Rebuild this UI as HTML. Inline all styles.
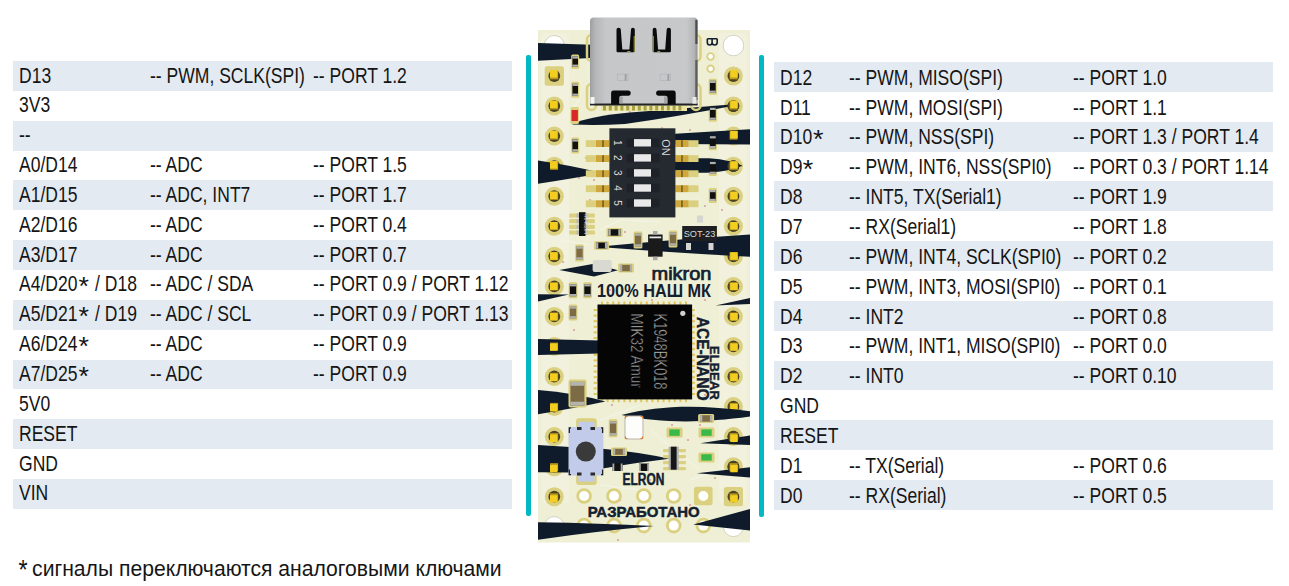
<!DOCTYPE html>
<html><head><meta charset="utf-8"><style>
html,body{margin:0;padding:0;background:#fff;width:1289px;height:586px;overflow:hidden;position:relative}
body{font-family:"Liberation Sans",sans-serif;color:#151515}
.row{position:absolute;width:499px;height:29.85px}
.sh{background:#e3eaf1}
.t{position:absolute;top:0;line-height:29.85px;font-size:22px;white-space:nowrap;transform:scaleX(0.797);transform-origin:0 0;top:-0.5px}
.ast{display:inline-block;font-size:26.2px;vertical-align:-3.9px;margin:0 3.6px 0 2.2px;transform:scaleX(1.29);line-height:0}
.fast{display:inline-block;font-size:27.7px;vertical-align:-2.7px;margin-right:-2px;transform:scaleX(0.9);line-height:0}
.tl{position:absolute;width:4.5px;background:#02b8c4;border-radius:2px 2px 2px 2px}
.foot{position:absolute;left:18px;top:556px;font-size:22.5px;white-space:nowrap;transform:scaleX(0.939);transform-origin:0 0}
#board{position:absolute;left:0;top:0}
</style></head><body>
<div class="row sh" style="left:13px;top:61.00px">
<span class="t" style="left:6.0px;top:-0.5px">D13</span>
<span class="t" style="left:136.8px;top:-0.5px">-- PWM, SCLK(SPI)</span>
<span class="t" style="left:300.0px;top:-0.5px">-- PORT 1.2</span>
</div>
<div class="row" style="left:13px;top:90.85px">
<span class="t" style="left:6.0px;top:-0.5px">3V3</span>
</div>
<div class="row sh" style="left:13px;top:120.70px">
<span class="t" style="left:6.0px;top:-0.5px">--</span>
</div>
<div class="row" style="left:13px;top:150.55px">
<span class="t" style="left:6.0px;top:-0.5px">A0/D14</span>
<span class="t" style="left:136.8px;top:-0.5px">-- ADC</span>
<span class="t" style="left:300.0px;top:-0.5px">-- PORT 1.5</span>
</div>
<div class="row sh" style="left:13px;top:180.40px">
<span class="t" style="left:6.0px;top:-0.5px">A1/D15</span>
<span class="t" style="left:136.8px;top:-0.5px">-- ADC, INT7</span>
<span class="t" style="left:300.0px;top:-0.5px">-- PORT 1.7</span>
</div>
<div class="row" style="left:13px;top:210.25px">
<span class="t" style="left:6.0px;top:-0.5px">A2/D16</span>
<span class="t" style="left:136.8px;top:-0.5px">-- ADC</span>
<span class="t" style="left:300.0px;top:-0.5px">-- PORT 0.4</span>
</div>
<div class="row sh" style="left:13px;top:240.10px">
<span class="t" style="left:6.0px;top:-0.5px">A3/D17</span>
<span class="t" style="left:136.8px;top:-0.5px">-- ADC</span>
<span class="t" style="left:300.0px;top:-0.5px">-- PORT 0.7</span>
</div>
<div class="row" style="left:13px;top:269.95px">
<span class="t" style="left:6.0px;top:-0.5px">A4/D20<span class=ast>*</span> / D18</span>
<span class="t" style="left:136.8px;top:-0.5px">-- ADC / SDA</span>
<span class="t" style="left:300.0px;top:-0.5px">-- PORT 0.9 / PORT 1.12</span>
</div>
<div class="row sh" style="left:13px;top:299.80px">
<span class="t" style="left:6.0px;top:-0.5px">A5/D21<span class=ast>*</span> / D19</span>
<span class="t" style="left:136.8px;top:-0.5px">-- ADC / SCL</span>
<span class="t" style="left:300.0px;top:-0.5px">-- PORT 0.9 / PORT 1.13</span>
</div>
<div class="row" style="left:13px;top:329.65px">
<span class="t" style="left:6.0px;top:-0.5px">A6/D24<span class=ast>*</span></span>
<span class="t" style="left:136.8px;top:-0.5px">-- ADC</span>
<span class="t" style="left:300.0px;top:-0.5px">-- PORT 0.9</span>
</div>
<div class="row sh" style="left:13px;top:359.50px">
<span class="t" style="left:6.0px;top:-0.5px">A7/D25<span class=ast>*</span></span>
<span class="t" style="left:136.8px;top:-0.5px">-- ADC</span>
<span class="t" style="left:300.0px;top:-0.5px">-- PORT 0.9</span>
</div>
<div class="row" style="left:13px;top:389.35px">
<span class="t" style="left:6.0px;top:-0.5px">5V0</span>
</div>
<div class="row sh" style="left:13px;top:419.20px">
<span class="t" style="left:6.0px;top:-0.5px">RESET</span>
</div>
<div class="row" style="left:13px;top:449.05px">
<span class="t" style="left:6.0px;top:-0.5px">GND</span>
</div>
<div class="row sh" style="left:13px;top:478.90px">
<span class="t" style="left:6.0px;top:-0.5px">VIN</span>
</div>
<div class="row sh" style="left:774px;top:62.00px">
<span class="t" style="left:5.8px;top:0.8px">D12</span>
<span class="t" style="left:74.9px;top:0.8px">-- PWM, MISO(SPI)</span>
<span class="t" style="left:298.8px;top:0.8px">-- PORT 1.0</span>
</div>
<div class="row" style="left:774px;top:91.85px">
<span class="t" style="left:5.8px;top:0.8px">D11</span>
<span class="t" style="left:74.9px;top:0.8px">-- PWM, MOSI(SPI)</span>
<span class="t" style="left:298.8px;top:0.8px">-- PORT 1.1</span>
</div>
<div class="row sh" style="left:774px;top:121.70px">
<span class="t" style="left:5.8px;top:0.8px">D10<span class=ast>*</span></span>
<span class="t" style="left:74.9px;top:0.8px">-- PWM, NSS(SPI)</span>
<span class="t" style="left:298.8px;top:0.8px">-- PORT 1.3 / PORT 1.4</span>
</div>
<div class="row" style="left:774px;top:151.55px">
<span class="t" style="left:5.8px;top:0.8px">D9<span class=ast>*</span></span>
<span class="t" style="left:74.9px;top:0.8px">-- PWM, INT6, NSS(SPI0)</span>
<span class="t" style="left:298.8px;top:0.8px">-- PORT 0.3 / PORT 1.14</span>
</div>
<div class="row sh" style="left:774px;top:181.40px">
<span class="t" style="left:5.8px;top:0.8px">D8</span>
<span class="t" style="left:74.9px;top:0.8px">-- INT5, TX(Serial1)</span>
<span class="t" style="left:298.8px;top:0.8px">-- PORT 1.9</span>
</div>
<div class="row" style="left:774px;top:211.25px">
<span class="t" style="left:5.8px;top:0.8px">D7</span>
<span class="t" style="left:74.9px;top:0.8px">-- RX(Serial1)</span>
<span class="t" style="left:298.8px;top:0.8px">-- PORT 1.8</span>
</div>
<div class="row sh" style="left:774px;top:241.10px">
<span class="t" style="left:5.8px;top:0.8px">D6</span>
<span class="t" style="left:74.9px;top:0.8px">-- PWM, INT4, SCLK(SPI0)</span>
<span class="t" style="left:298.8px;top:0.8px">-- PORT 0.2</span>
</div>
<div class="row" style="left:774px;top:270.95px">
<span class="t" style="left:5.8px;top:0.8px">D5</span>
<span class="t" style="left:74.9px;top:0.8px">-- PWM, INT3, MOSI(SPI0)</span>
<span class="t" style="left:298.8px;top:0.8px">-- PORT 0.1</span>
</div>
<div class="row sh" style="left:774px;top:300.80px">
<span class="t" style="left:5.8px;top:0.8px">D4</span>
<span class="t" style="left:74.9px;top:0.8px">-- INT2</span>
<span class="t" style="left:298.8px;top:0.8px">-- PORT 0.8</span>
</div>
<div class="row" style="left:774px;top:330.65px">
<span class="t" style="left:5.8px;top:0.8px">D3</span>
<span class="t" style="left:74.9px;top:0.8px">-- PWM, INT1, MISO(SPI0)</span>
<span class="t" style="left:298.8px;top:0.8px">-- PORT 0.0</span>
</div>
<div class="row sh" style="left:774px;top:360.50px">
<span class="t" style="left:5.8px;top:0.8px">D2</span>
<span class="t" style="left:74.9px;top:0.8px">-- INT0</span>
<span class="t" style="left:298.8px;top:0.8px">-- PORT 0.10</span>
</div>
<div class="row" style="left:774px;top:390.35px">
<span class="t" style="left:5.8px;top:0.8px">GND</span>
</div>
<div class="row sh" style="left:774px;top:420.20px">
<span class="t" style="left:5.8px;top:0.8px">RESET</span>
</div>
<div class="row" style="left:774px;top:450.05px">
<span class="t" style="left:5.8px;top:0.8px">D1</span>
<span class="t" style="left:74.9px;top:0.8px">-- TX(Serial)</span>
<span class="t" style="left:298.8px;top:0.8px">-- PORT 0.6</span>
</div>
<div class="row sh" style="left:774px;top:479.90px">
<span class="t" style="left:5.8px;top:0.8px">D0</span>
<span class="t" style="left:74.9px;top:0.8px">-- RX(Serial)</span>
<span class="t" style="left:298.8px;top:0.8px">-- PORT 0.5</span>
</div>
<div class="tl" style="left:526.3px;top:55px;height:461px"></div>
<div class="tl" style="left:759px;top:54.5px;height:462px"></div>
<div class="foot"><span class="fast">*</span> сигналы переключаются аналоговыми ключами</div>
<svg id="board" width="1289" height="586" viewBox="0 0 1289 586" style="position:absolute;left:0;top:0">
<defs>
<linearGradient id="usbg" x1="0" x2="1" y1="0" y2="0">
<stop offset="0" stop-color="#9c9ea0"/><stop offset="0.05" stop-color="#b4b6b8"/><stop offset="0.15" stop-color="#c5c7c9"/><stop offset="0.9" stop-color="#c6c8ca"/><stop offset="0.97" stop-color="#b2b4b6"/><stop offset="1" stop-color="#8e9092"/>
</linearGradient>
<linearGradient id="yelg" x1="0" x2="0" y1="0" y2="1">
<stop offset="0" stop-color="#f6d22a"/><stop offset="0.6" stop-color="#efc51c"/><stop offset="1" stop-color="#b99414"/>
</linearGradient>
</defs>
<rect x="538" y="30" width="212" height="512.5" fill="#eeefd5"/>
<g fill="#f2f2de" opacity="0.9">
<rect x="541" y="33" width="28" height="470" rx="4"/>
<rect x="719" y="33" width="28" height="470" rx="4"/>
</g>
<circle cx="554.3" cy="45.5" r="10" fill="#fff" stroke="#c9c9b8" stroke-width="0.8"/>
<circle cx="733.4" cy="45.5" r="10.3" fill="#fff" stroke="#c9c9b8" stroke-width="0.8"/>
<!--BANDS-->
<g stroke="#f4f4e6" stroke-width="1.6" fill="none" opacity="0.8">
<path d="M563 88 L575 100 M563 118 L580 100 M600 230 L620 220 L660 222 M690 300 L700 320 M600 420 L640 405 M560 240 L590 245 M650 430 L700 470 M690 480 L720 470 M600 485 L640 490 M700 395 L720 380"/>
</g>
<circle cx="586" cy="158" r="1.1" fill="#d8a2a4"/>
<circle cx="590" cy="200" r="1.1" fill="#d8a2a4"/>
<circle cx="600" cy="330" r="1.1" fill="#d8a2a4"/>
<circle cx="610" cy="290" r="1.1" fill="#d8a2a4"/>
<circle cx="625" cy="232" r="1.1" fill="#d8a2a4"/>
<circle cx="640" cy="190" r="1.1" fill="#d8a2a4"/>
<circle cx="652" cy="300" r="1.1" fill="#d8a2a4"/>
<circle cx="668" cy="243" r="1.1" fill="#d8a2a4"/>
<circle cx="705" cy="206" r="1.1" fill="#d8a2a4"/>
<circle cx="712" cy="120" r="1.1" fill="#d8a2a4"/>
<circle cx="722" cy="210" r="1.1" fill="#d8a2a4"/>
<circle cx="563" cy="262" r="1.1" fill="#d8a2a4"/>
<circle cx="598" cy="380" r="1.1" fill="#d8a2a4"/>
<circle cx="612" cy="405" r="1.1" fill="#d8a2a4"/>
<circle cx="660" cy="410" r="1.1" fill="#d8a2a4"/>
<circle cx="672" cy="425" r="1.1" fill="#d8a2a4"/>
<circle cx="688" cy="440" r="1.1" fill="#d8a2a4"/>
<circle cx="700" cy="425" r="1.1" fill="#d8a2a4"/>
<circle cx="650" cy="480" r="1.1" fill="#d8a2a4"/>
<circle cx="715" cy="478" r="1.1" fill="#d8a2a4"/>
<circle cx="620" cy="500" r="1.1" fill="#d8a2a4"/>
<circle cx="690" cy="505" r="1.1" fill="#d8a2a4"/>
<circle cx="662" cy="128" r="1.1" fill="#d8a2a4"/>
<circle cx="690" cy="130" r="1.1" fill="#d8a2a4"/>
<circle cx="579" cy="178" r="1.1" fill="#d8a2a4"/>
<circle cx="630" cy="112" r="1.1" fill="#d8a2a4"/>
<circle cx="594" cy="180" r="1.1" fill="#d8a2a4"/>
<circle cx="705" cy="300" r="1.1" fill="#d8a2a4"/>
<circle cx="700" cy="345" r="1.1" fill="#d8a2a4"/>
<circle cx="705" cy="395" r="1.1" fill="#d8a2a4"/>
<circle cx="574" cy="330" r="1.1" fill="#d8a2a4"/>
<circle cx="583" cy="345" r="1.1" fill="#d8a2a4"/>
<circle cx="588" cy="268" r="1.1" fill="#d8a2a4"/>
<circle cx="648" cy="520" r="1.1" fill="#d8a2a4"/>
<circle cx="618" cy="540" r="1.1" fill="#d8a2a4"/>
<rect x="544.7" y="66.2" width="19.2" height="19.6" rx="2.5" fill="#dad07f"/>
<circle cx="554.3" cy="76.0" r="5.9" fill="#4a4222"/>
<rect x="550.1" y="71.3" width="8" height="8" fill="#b99a1c"/>
<rect x="550.0" y="70.1" width="7.4" height="7.4" rx="0.5" fill="#f3cd20"/>
<circle cx="733.4" cy="76.0" r="9.5" fill="#dad07f"/>
<circle cx="733.4" cy="76.0" r="5.9" fill="#4a4222"/>
<rect x="729.6" y="71.3" width="8" height="8" fill="#b99a1c"/>
<rect x="730.3" y="70.1" width="7.4" height="7.4" rx="0.5" fill="#f3cd20"/>
<circle cx="554.3" cy="106.0" r="9.5" fill="#dad07f"/>
<circle cx="554.3" cy="106.0" r="5.9" fill="#4a4222"/>
<rect x="550.1" y="101.5" width="8" height="8" fill="#b99a1c"/>
<rect x="550.0" y="100.5" width="7.4" height="7.4" rx="0.5" fill="#f3cd20"/>
<circle cx="733.4" cy="106.0" r="9.5" fill="#dad07f"/>
<circle cx="733.4" cy="106.0" r="5.9" fill="#4a4222"/>
<rect x="729.6" y="101.5" width="8" height="8" fill="#b99a1c"/>
<rect x="730.3" y="100.5" width="7.4" height="7.4" rx="0.5" fill="#f3cd20"/>
<circle cx="554.3" cy="136.1" r="9.5" fill="#dad07f"/>
<circle cx="554.3" cy="136.1" r="5.9" fill="#4a4222"/>
<rect x="550.1" y="131.6" width="8" height="8" fill="#b99a1c"/>
<rect x="550.0" y="130.8" width="7.4" height="7.4" rx="0.5" fill="#f3cd20"/>
<circle cx="733.4" cy="136.1" r="9.5" fill="#dad07f"/>
<circle cx="733.4" cy="136.1" r="5.9" fill="#4a4222"/>
<rect x="729.6" y="131.6" width="8" height="8" fill="#b99a1c"/>
<rect x="730.3" y="130.8" width="7.4" height="7.4" rx="0.5" fill="#f3cd20"/>
<circle cx="554.3" cy="166.2" r="9.5" fill="#dad07f"/>
<circle cx="554.3" cy="166.2" r="5.9" fill="#4a4222"/>
<rect x="550.1" y="161.8" width="8" height="8" fill="#b99a1c"/>
<rect x="550.0" y="161.2" width="7.4" height="7.4" rx="0.5" fill="#f3cd20"/>
<circle cx="733.4" cy="166.2" r="9.5" fill="#dad07f"/>
<circle cx="733.4" cy="166.2" r="5.9" fill="#4a4222"/>
<rect x="729.6" y="161.8" width="8" height="8" fill="#b99a1c"/>
<rect x="730.3" y="161.2" width="7.4" height="7.4" rx="0.5" fill="#f3cd20"/>
<circle cx="554.3" cy="196.2" r="9.5" fill="#dad07f"/>
<circle cx="554.3" cy="196.2" r="5.9" fill="#4a4222"/>
<rect x="550.1" y="191.9" width="8" height="8" fill="#b99a1c"/>
<rect x="550.0" y="191.6" width="7.4" height="7.4" rx="0.5" fill="#f3cd20"/>
<circle cx="733.4" cy="196.2" r="9.5" fill="#dad07f"/>
<circle cx="733.4" cy="196.2" r="5.9" fill="#4a4222"/>
<rect x="729.6" y="191.9" width="8" height="8" fill="#b99a1c"/>
<rect x="730.3" y="191.6" width="7.4" height="7.4" rx="0.5" fill="#f3cd20"/>
<circle cx="554.3" cy="226.2" r="9.5" fill="#dad07f"/>
<circle cx="554.3" cy="226.2" r="5.9" fill="#4a4222"/>
<rect x="550.1" y="222.1" width="8" height="8" fill="#b99a1c"/>
<rect x="550.0" y="221.9" width="7.4" height="7.4" rx="0.5" fill="#f3cd20"/>
<circle cx="733.4" cy="226.2" r="9.5" fill="#dad07f"/>
<circle cx="733.4" cy="226.2" r="5.9" fill="#4a4222"/>
<rect x="729.6" y="222.1" width="8" height="8" fill="#b99a1c"/>
<rect x="730.3" y="221.9" width="7.4" height="7.4" rx="0.5" fill="#f3cd20"/>
<circle cx="554.3" cy="256.3" r="9.5" fill="#dad07f"/>
<circle cx="554.3" cy="256.3" r="5.9" fill="#4a4222"/>
<rect x="550.1" y="252.2" width="8" height="8" fill="#b99a1c"/>
<rect x="550.0" y="252.3" width="7.4" height="7.4" rx="0.5" fill="#f3cd20"/>
<circle cx="733.4" cy="256.3" r="9.5" fill="#dad07f"/>
<circle cx="733.4" cy="256.3" r="5.9" fill="#4a4222"/>
<rect x="729.6" y="252.2" width="8" height="8" fill="#b99a1c"/>
<rect x="730.3" y="252.3" width="7.4" height="7.4" rx="0.5" fill="#f3cd20"/>
<circle cx="554.3" cy="286.4" r="9.5" fill="#dad07f"/>
<circle cx="554.3" cy="286.4" r="5.9" fill="#4a4222"/>
<rect x="550.1" y="282.4" width="8" height="8" fill="#b99a1c"/>
<rect x="550.0" y="282.7" width="7.4" height="7.4" rx="0.5" fill="#f3cd20"/>
<circle cx="733.4" cy="286.4" r="9.5" fill="#dad07f"/>
<circle cx="733.4" cy="286.4" r="5.9" fill="#4a4222"/>
<rect x="729.6" y="282.4" width="8" height="8" fill="#b99a1c"/>
<rect x="730.3" y="282.7" width="7.4" height="7.4" rx="0.5" fill="#f3cd20"/>
<circle cx="554.3" cy="316.4" r="9.5" fill="#dad07f"/>
<circle cx="554.3" cy="316.4" r="5.9" fill="#4a4222"/>
<rect x="550.1" y="312.5" width="8" height="8" fill="#b99a1c"/>
<rect x="550.0" y="313.0" width="7.4" height="7.4" rx="0.5" fill="#f3cd20"/>
<circle cx="733.4" cy="316.4" r="9.5" fill="#dad07f"/>
<circle cx="733.4" cy="316.4" r="5.9" fill="#4a4222"/>
<rect x="729.6" y="312.5" width="8" height="8" fill="#b99a1c"/>
<rect x="730.3" y="313.0" width="7.4" height="7.4" rx="0.5" fill="#f3cd20"/>
<circle cx="554.3" cy="346.4" r="9.5" fill="#dad07f"/>
<circle cx="554.3" cy="346.4" r="5.9" fill="#4a4222"/>
<rect x="550.1" y="342.6" width="8" height="8" fill="#b99a1c"/>
<rect x="550.0" y="343.4" width="7.4" height="7.4" rx="0.5" fill="#f3cd20"/>
<circle cx="733.4" cy="346.4" r="9.5" fill="#dad07f"/>
<circle cx="733.4" cy="346.4" r="5.9" fill="#4a4222"/>
<rect x="729.6" y="342.6" width="8" height="8" fill="#b99a1c"/>
<rect x="730.3" y="343.4" width="7.4" height="7.4" rx="0.5" fill="#f3cd20"/>
<circle cx="554.3" cy="376.5" r="9.5" fill="#dad07f"/>
<circle cx="554.3" cy="376.5" r="5.9" fill="#4a4222"/>
<rect x="550.1" y="372.8" width="8" height="8" fill="#b99a1c"/>
<rect x="550.0" y="373.8" width="7.4" height="7.4" rx="0.5" fill="#f3cd20"/>
<circle cx="733.4" cy="376.5" r="9.5" fill="#dad07f"/>
<circle cx="733.4" cy="376.5" r="5.9" fill="#4a4222"/>
<rect x="729.6" y="372.8" width="8" height="8" fill="#b99a1c"/>
<rect x="730.3" y="373.8" width="7.4" height="7.4" rx="0.5" fill="#f3cd20"/>
<circle cx="554.3" cy="406.6" r="9.5" fill="#dad07f"/>
<circle cx="554.3" cy="406.6" r="5.9" fill="#4a4222"/>
<rect x="550.1" y="402.9" width="8" height="8" fill="#b99a1c"/>
<rect x="550.0" y="404.1" width="7.4" height="7.4" rx="0.5" fill="#f3cd20"/>
<circle cx="733.4" cy="406.6" r="9.5" fill="#dad07f"/>
<circle cx="733.4" cy="406.6" r="5.9" fill="#4a4222"/>
<rect x="729.6" y="402.9" width="8" height="8" fill="#b99a1c"/>
<rect x="730.3" y="404.1" width="7.4" height="7.4" rx="0.5" fill="#f3cd20"/>
<circle cx="554.3" cy="436.6" r="9.5" fill="#dad07f"/>
<circle cx="554.3" cy="436.6" r="5.9" fill="#4a4222"/>
<rect x="550.1" y="433.1" width="8" height="8" fill="#b99a1c"/>
<rect x="550.0" y="434.5" width="7.4" height="7.4" rx="0.5" fill="#f3cd20"/>
<circle cx="733.4" cy="436.6" r="9.5" fill="#dad07f"/>
<circle cx="733.4" cy="436.6" r="5.9" fill="#4a4222"/>
<rect x="729.6" y="433.1" width="8" height="8" fill="#b99a1c"/>
<rect x="730.3" y="434.5" width="7.4" height="7.4" rx="0.5" fill="#f3cd20"/>
<circle cx="554.3" cy="466.7" r="9.5" fill="#dad07f"/>
<circle cx="554.3" cy="466.7" r="5.9" fill="#4a4222"/>
<rect x="550.1" y="463.2" width="8" height="8" fill="#b99a1c"/>
<rect x="550.0" y="464.9" width="7.4" height="7.4" rx="0.5" fill="#f3cd20"/>
<circle cx="733.4" cy="466.7" r="9.5" fill="#dad07f"/>
<circle cx="733.4" cy="466.7" r="5.9" fill="#4a4222"/>
<rect x="729.6" y="463.2" width="8" height="8" fill="#b99a1c"/>
<rect x="730.3" y="464.9" width="7.4" height="7.4" rx="0.5" fill="#f3cd20"/>
<circle cx="554.3" cy="496.7" r="9.5" fill="#dad07f"/>
<circle cx="554.3" cy="496.7" r="5.9" fill="#4a4222"/>
<rect x="550.1" y="493.4" width="8" height="8" fill="#b99a1c"/>
<rect x="550.0" y="495.2" width="7.4" height="7.4" rx="0.5" fill="#f3cd20"/>
<circle cx="733.4" cy="496.7" r="9.5" fill="#dad07f"/>
<circle cx="733.4" cy="496.7" r="5.9" fill="#4a4222"/>
<rect x="729.6" y="493.4" width="8" height="8" fill="#b99a1c"/>
<rect x="730.3" y="495.2" width="7.4" height="7.4" rx="0.5" fill="#f3cd20"/>
<circle cx="584.1" cy="496.0" r="7.8" fill="#dad07f"/>
<circle cx="584.1" cy="496.0" r="5.0" fill="#fff"/>
<circle cx="614.0" cy="496.0" r="7.8" fill="#dad07f"/>
<circle cx="614.0" cy="496.0" r="5.0" fill="#fff"/>
<circle cx="643.8" cy="496.0" r="7.8" fill="#dad07f"/>
<circle cx="643.8" cy="496.0" r="5.0" fill="#fff"/>
<circle cx="673.7" cy="496.0" r="7.8" fill="#dad07f"/>
<circle cx="673.7" cy="496.0" r="5.0" fill="#fff"/>
<rect x="694.0" y="486.7" width="18.6" height="18.6" rx="2.5" fill="#dad07f"/>
<circle cx="703.3" cy="496.0" r="5.0" fill="#fff"/>
<circle cx="554.3" cy="526.6" r="10" fill="#fff" stroke="#c9c9b8" stroke-width="0.8"/>
<circle cx="584.1" cy="525.6" r="7.8" fill="#dad07f"/>
<circle cx="584.1" cy="525.6" r="5.0" fill="#fff"/>
<circle cx="614.0" cy="525.6" r="7.8" fill="#dad07f"/>
<circle cx="614.0" cy="525.6" r="5.0" fill="#fff"/>
<circle cx="643.8" cy="525.6" r="7.8" fill="#dad07f"/>
<circle cx="643.8" cy="525.6" r="5.0" fill="#fff"/>
<circle cx="673.7" cy="525.6" r="7.8" fill="#dad07f"/>
<circle cx="673.7" cy="525.6" r="5.0" fill="#fff"/>
<circle cx="703.3" cy="525.6" r="7.8" fill="#dad07f"/>
<circle cx="703.3" cy="525.6" r="5.0" fill="#fff"/>
<circle cx="733.4" cy="526.6" r="10" fill="#fff" stroke="#c9c9b8" stroke-width="0.8"/>
<rect x="723.8" y="487.1" width="19.2" height="19.2" rx="2.5" fill="#dad07f"/>
<circle cx="733.4" cy="496.7" r="5.9" fill="#4a4222"/>
<rect x="729.6" y="493.4" width="8" height="8" fill="#b99a1c"/>
<rect x="730.3" y="495.2" width="7.4" height="7.4" rx="0.5" fill="#f3cd20"/>
<circle cx="710.6" cy="56.5" r="4.2" fill="#dad07f"/><circle cx="710.6" cy="56.5" r="2.4" fill="#fff"/>
<circle cx="710.6" cy="68.8" r="4.2" fill="#dad07f"/><circle cx="710.6" cy="68.8" r="2.4" fill="#fff"/>
<g fill="#e0c65a">
<rect x="601.0" y="301.5" width="2" height="3.3"/>
<rect x="601.0" y="398.9" width="2" height="3.3"/>
<rect x="593.6" y="309.0" width="3.3" height="2"/>
<rect x="691.6" y="309.0" width="3.3" height="2"/>
<rect x="606.6" y="301.5" width="2" height="3.3"/>
<rect x="606.6" y="398.9" width="2" height="3.3"/>
<rect x="593.6" y="314.6" width="3.3" height="2"/>
<rect x="691.6" y="314.6" width="3.3" height="2"/>
<rect x="612.2" y="301.5" width="2" height="3.3"/>
<rect x="612.2" y="398.9" width="2" height="3.3"/>
<rect x="593.6" y="320.2" width="3.3" height="2"/>
<rect x="691.6" y="320.2" width="3.3" height="2"/>
<rect x="617.8" y="301.5" width="2" height="3.3"/>
<rect x="617.8" y="398.9" width="2" height="3.3"/>
<rect x="593.6" y="325.8" width="3.3" height="2"/>
<rect x="691.6" y="325.8" width="3.3" height="2"/>
<rect x="623.4" y="301.5" width="2" height="3.3"/>
<rect x="623.4" y="398.9" width="2" height="3.3"/>
<rect x="593.6" y="331.4" width="3.3" height="2"/>
<rect x="691.6" y="331.4" width="3.3" height="2"/>
<rect x="629.0" y="301.5" width="2" height="3.3"/>
<rect x="629.0" y="398.9" width="2" height="3.3"/>
<rect x="593.6" y="337.0" width="3.3" height="2"/>
<rect x="691.6" y="337.0" width="3.3" height="2"/>
<rect x="634.6" y="301.5" width="2" height="3.3"/>
<rect x="634.6" y="398.9" width="2" height="3.3"/>
<rect x="593.6" y="342.6" width="3.3" height="2"/>
<rect x="691.6" y="342.6" width="3.3" height="2"/>
<rect x="640.2" y="301.5" width="2" height="3.3"/>
<rect x="640.2" y="398.9" width="2" height="3.3"/>
<rect x="593.6" y="348.2" width="3.3" height="2"/>
<rect x="691.6" y="348.2" width="3.3" height="2"/>
<rect x="645.8" y="301.5" width="2" height="3.3"/>
<rect x="645.8" y="398.9" width="2" height="3.3"/>
<rect x="593.6" y="353.8" width="3.3" height="2"/>
<rect x="691.6" y="353.8" width="3.3" height="2"/>
<rect x="651.4" y="301.5" width="2" height="3.3"/>
<rect x="651.4" y="398.9" width="2" height="3.3"/>
<rect x="593.6" y="359.4" width="3.3" height="2"/>
<rect x="691.6" y="359.4" width="3.3" height="2"/>
<rect x="657.0" y="301.5" width="2" height="3.3"/>
<rect x="657.0" y="398.9" width="2" height="3.3"/>
<rect x="593.6" y="365.0" width="3.3" height="2"/>
<rect x="691.6" y="365.0" width="3.3" height="2"/>
<rect x="662.6" y="301.5" width="2" height="3.3"/>
<rect x="662.6" y="398.9" width="2" height="3.3"/>
<rect x="593.6" y="370.6" width="3.3" height="2"/>
<rect x="691.6" y="370.6" width="3.3" height="2"/>
<rect x="668.2" y="301.5" width="2" height="3.3"/>
<rect x="668.2" y="398.9" width="2" height="3.3"/>
<rect x="593.6" y="376.2" width="3.3" height="2"/>
<rect x="691.6" y="376.2" width="3.3" height="2"/>
<rect x="673.8" y="301.5" width="2" height="3.3"/>
<rect x="673.8" y="398.9" width="2" height="3.3"/>
<rect x="593.6" y="381.8" width="3.3" height="2"/>
<rect x="691.6" y="381.8" width="3.3" height="2"/>
<rect x="679.4" y="301.5" width="2" height="3.3"/>
<rect x="679.4" y="398.9" width="2" height="3.3"/>
<rect x="593.6" y="387.4" width="3.3" height="2"/>
<rect x="691.6" y="387.4" width="3.3" height="2"/>
<rect x="685.0" y="301.5" width="2" height="3.3"/>
<rect x="685.0" y="398.9" width="2" height="3.3"/>
<rect x="593.6" y="393.0" width="3.3" height="2"/>
<rect x="691.6" y="393.0" width="3.3" height="2"/>
</g>
<rect x="708.7" y="105.8" width="8.2" height="16.0" rx="1.5" fill="#dad07f"/>
<rect x="708.7" y="134.2" width="8.2" height="16.0" rx="1.5" fill="#dad07f"/>
<rect x="708.7" y="159.9" width="8.2" height="16.0" rx="1.5" fill="#dad07f"/>
<g fill="#0f1b2a">
<path d="M538 43 L600 45 L600 57.5 L538 60.7 Z"/>
<path d="M572.5 124 Q590 116 630 112.5 L731 104.6 L731 106.2 Q680 116 625 124 Q600 125.5 572.5 124.6 Z"/>
<path d="M630 137 L675 133.8 L750 129.2 L750 144.6 L675 144 L630 141 Z"/>
<path d="M538 160.4 Q575 166 600 172.6 L600 173.5 Q575 178 538 183.8 Z"/>
<path d="M655 165.5 C690 155.5 722 156 742.5 165.8 C722 174 690 176 655 166.5 Z"/>
<path d="M606 246 Q680 239 750 234.5 L750 256.7 Q680 253 606 247.4 Z"/>
<path d="M559.3 270 L594 263.8 L618 270.2 L594 276.6 Z"/>
<path d="M538 294.2 L569 294.4 L538 301.5 Z"/>
<path d="M715.5 305.6 L750 297.9 L750 303.9 Z"/>
<path d="M538 338.9 L600 340.6 L600 353.4 L538 355.1 Z"/>
<path d="M538 390 Q575 393 605.4 401.5 Q575 408 538 414.3 Z"/>
<path d="M621.6 415 C660 405 700 404.5 750 411.3 L750 416.6 C700 423.5 660 423 621.6 415 Z"/>
<path d="M538 445 L570 447 L570 472.5 L538 472.3 Z"/>
<path d="M600 448.4 Q640 452 669.4 458.7 Q640 462 600 468.9 Z"/>
<path d="M700.2 443.3 L750 435.6 L750 445 Z"/>
<path d="M696.8 473.2 L750 467.2 L750 477.4 Z"/>
<path d="M538 522.2 Q600 523 654 526.1 Q600 531 538 539.7 Z"/>
<path d="M693.3 524.4 L750 509 L750 530.4 Z"/>
</g>
<rect x="729.6" y="101.5" width="8" height="8" fill="#b99a1c"/>
<rect x="730.3" y="100.5" width="7.4" height="7.4" rx="0.5" fill="#f3cd20"/>
<rect x="729.6" y="131.6" width="8" height="8" fill="#b99a1c"/>
<rect x="730.3" y="130.8" width="7.4" height="7.4" rx="0.5" fill="#f3cd20"/>
<rect x="550.1" y="161.8" width="8" height="8" fill="#b99a1c"/>
<rect x="550.0" y="161.2" width="7.4" height="7.4" rx="0.5" fill="#f3cd20"/>
<rect x="729.6" y="161.8" width="8" height="8" fill="#b99a1c"/>
<rect x="730.3" y="161.2" width="7.4" height="7.4" rx="0.5" fill="#f3cd20"/>
<rect x="729.6" y="252.2" width="8" height="8" fill="#b99a1c"/>
<rect x="730.3" y="252.3" width="7.4" height="7.4" rx="0.5" fill="#f3cd20"/>
<rect x="550.1" y="342.6" width="8" height="8" fill="#b99a1c"/>
<rect x="550.0" y="343.4" width="7.4" height="7.4" rx="0.5" fill="#f3cd20"/>
<rect x="550.1" y="402.9" width="8" height="8" fill="#b99a1c"/>
<rect x="550.0" y="404.1" width="7.4" height="7.4" rx="0.5" fill="#f3cd20"/>
<rect x="550.1" y="463.2" width="8" height="8" fill="#b99a1c"/>
<rect x="550.0" y="464.9" width="7.4" height="7.4" rx="0.5" fill="#f3cd20"/>
<circle cx="733.4" cy="106.0" r="5.9" fill="#4a4222"/>
<rect x="729.6" y="101.5" width="8" height="8" fill="#b99a1c"/>
<rect x="730.3" y="100.5" width="7.4" height="7.4" rx="0.5" fill="#f3cd20"/>
<circle cx="733.4" cy="166.2" r="5.9" fill="#4a4222"/>
<rect x="729.6" y="161.8" width="8" height="8" fill="#b99a1c"/>
<rect x="730.3" y="161.2" width="7.4" height="7.4" rx="0.5" fill="#f3cd20"/>
<circle cx="733.4" cy="436.6" r="5.9" fill="#4a4222"/>
<rect x="729.6" y="433.1" width="8" height="8" fill="#b99a1c"/>
<rect x="730.3" y="434.5" width="7.4" height="7.4" rx="0.5" fill="#f3cd20"/>
<circle cx="733.4" cy="466.7" r="5.9" fill="#4a4222"/>
<rect x="729.6" y="463.2" width="8" height="8" fill="#b99a1c"/>
<rect x="730.3" y="464.9" width="7.4" height="7.4" rx="0.5" fill="#f3cd20"/>
<rect x="571.2" y="54.4" width="8.0" height="14.5" rx="1.5" fill="#dad07f"/>
<rect x="572.4" y="56.4" width="5.6" height="10.5" fill="#111"/>
<rect x="572.4" y="56.4" width="5.6" height="2.2" fill="#aeb0b0"/>
<rect x="572.4" y="64.6" width="5.6" height="2.2" fill="#aeb0b0"/>
<rect x="571.2" y="81.8" width="8.0" height="16.0" rx="1.5" fill="#dad07f"/>
<rect x="572.4" y="83.8" width="5.6" height="12" fill="#111"/>
<rect x="572.4" y="83.8" width="5.6" height="2.2" fill="#aeb0b0"/>
<rect x="572.4" y="93.6" width="5.6" height="2.2" fill="#aeb0b0"/>
<rect x="570.5" y="107" width="8.4" height="17" rx="1.5" fill="#dad07f"/>
<rect x="571.5" y="110" width="6.4" height="11" fill="#d8262a"/>
<rect x="571.2" y="137.4" width="8.0" height="16.0" rx="1.5" fill="#dad07f"/>
<rect x="572.4" y="139.4" width="5.6" height="12" fill="#111"/>
<rect x="572.4" y="139.4" width="5.6" height="2.2" fill="#aeb0b0"/>
<rect x="572.4" y="149.2" width="5.6" height="2.2" fill="#aeb0b0"/>
<rect x="708.7" y="78.8" width="8.2" height="16.0" rx="1.5" fill="#dad07f"/>
<rect x="709.9" y="80.8" width="5.8" height="12" fill="#111"/>
<rect x="709.9" y="80.8" width="5.8" height="2.2" fill="#aeb0b0"/>
<rect x="709.9" y="90.6" width="5.8" height="2.2" fill="#aeb0b0"/>
<rect x="709.9" y="107.8" width="5.8" height="12" fill="#111"/>
<rect x="709.9" y="107.8" width="5.8" height="2.2" fill="#aeb0b0"/>
<rect x="709.9" y="117.6" width="5.8" height="2.2" fill="#aeb0b0"/>
<rect x="709.9" y="136.2" width="5.8" height="12" fill="#111"/>
<rect x="709.9" y="136.2" width="5.8" height="2.2" fill="#aeb0b0"/>
<rect x="709.9" y="146.0" width="5.8" height="2.2" fill="#aeb0b0"/>
<rect x="709.9" y="161.9" width="5.8" height="12" fill="#111"/>
<rect x="709.9" y="161.9" width="5.8" height="2.2" fill="#aeb0b0"/>
<rect x="709.9" y="171.7" width="5.8" height="2.2" fill="#aeb0b0"/>
<rect x="708.7" y="188.0" width="8.2" height="15.0" rx="1.5" fill="#dad07f"/>
<rect x="709.9" y="190.0" width="5.8" height="11" fill="#111"/>
<rect x="709.9" y="190.0" width="5.8" height="2.2" fill="#aeb0b0"/>
<rect x="709.9" y="198.8" width="5.8" height="2.2" fill="#aeb0b0"/>
<rect x="569.2" y="213.4" width="25.7" height="4.2" rx="1.2" fill="#dad07f"/>
<rect x="576.5" y="213.4" width="11.5" height="4.2" fill="#b8b9bd"/>
<rect x="569.2" y="219.1" width="25.7" height="4.2" rx="1.2" fill="#dad07f"/>
<rect x="576.5" y="219.1" width="11.5" height="4.2" fill="#b8b9bd"/>
<rect x="569.2" y="224.7" width="25.7" height="4.2" rx="1.2" fill="#dad07f"/>
<rect x="576.5" y="224.7" width="11.5" height="4.2" fill="#b8b9bd"/>
<rect x="569.2" y="230.4" width="25.7" height="4.2" rx="1.2" fill="#dad07f"/>
<rect x="576.5" y="230.4" width="11.5" height="4.2" fill="#b8b9bd"/>
<rect x="579" y="212.2" width="6.5" height="23.8" fill="#111"/>
<text transform="translate(583.5 214) rotate(90)" font-family="Liberation Sans" font-size="5" fill="#ddd" textLength="20" lengthAdjust="spacingAndGlyphs">R0402x4</text>
<rect x="606.5" y="228.1" width="16.0" height="8.9" rx="1.5" fill="#dad07f"/>
<rect x="608.5" y="229.2" width="12" height="6.5" fill="#111"/>
<rect x="608.5" y="229.2" width="2.2" height="6.5" fill="#aeb0b0"/>
<rect x="618.3" y="229.2" width="2.2" height="6.5" fill="#aeb0b0"/>
<rect x="633.6" y="231.5" width="8.8" height="17.0" rx="1.5" fill="#dad07f"/>
<rect x="634.8" y="233.5" width="6.4" height="13" fill="#7d6b45"/>
<rect x="634.8" y="233.5" width="6.4" height="2.2" fill="#aeb0b0"/>
<rect x="634.8" y="244.3" width="6.4" height="2.2" fill="#aeb0b0"/>
<rect x="668.6" y="230.5" width="8.8" height="17.0" rx="1.5" fill="#dad07f"/>
<rect x="669.8" y="232.5" width="6.4" height="13" fill="#7d6b45"/>
<rect x="669.8" y="232.5" width="6.4" height="2.2" fill="#aeb0b0"/>
<rect x="669.8" y="243.3" width="6.4" height="2.2" fill="#aeb0b0"/>
<rect x="575.1" y="244.5" width="8.8" height="17.0" rx="1.5" fill="#dad07f"/>
<rect x="576.3" y="246.5" width="6.4" height="13" fill="#7d6b45"/>
<rect x="576.3" y="246.5" width="6.4" height="2.2" fill="#aeb0b0"/>
<rect x="576.3" y="257.3" width="6.4" height="2.2" fill="#aeb0b0"/>
<rect x="594.1" y="241.3" width="15.0" height="8.4" rx="1.5" fill="#dad07f"/>
<rect x="596.1" y="242.5" width="11" height="6" fill="#111"/>
<rect x="596.1" y="242.5" width="2.2" height="6" fill="#aeb0b0"/>
<rect x="604.9" y="242.5" width="2.2" height="6" fill="#aeb0b0"/>
<rect x="648.1" y="234.5" width="14.5" height="22.2" fill="#1a1a1a"/>
<rect x="649.5" y="236.5" width="11.7" height="1.8" fill="#e8e8e8"/>
<rect x="653" y="231" width="4.5" height="3.5" fill="#aaa"/><rect x="653" y="256.7" width="4.5" height="3.5" fill="#aaa"/>
<rect x="682.2" y="226" width="34.7" height="15.3" fill="#1d1f22"/>
<text x="699.5" y="237.3" font-family="Liberation Sans" font-size="9.2" fill="#d8d8d8" text-anchor="middle">SOT-23</text>
<rect x="686" y="243" width="5" height="7" fill="#d6d6d0"/><rect x="708.5" y="243" width="5" height="7" fill="#d6d6d0"/>
<rect x="697" y="215.5" width="6" height="7" fill="#d6d6d0"/>
<rect x="592.6" y="260.1" width="19.1" height="12" rx="2" fill="#d9d9d1"/>
<rect x="618.0" y="263.6" width="16.0" height="8.9" rx="1.5" fill="#dad07f"/>
<rect x="620.0" y="264.8" width="12" height="6.5" fill="#7d6b45"/>
<rect x="620.0" y="264.8" width="2.2" height="6.5" fill="#aeb0b0"/>
<rect x="629.8" y="264.8" width="2.2" height="6.5" fill="#aeb0b0"/>
<rect x="568.6" y="282.2" width="8.8" height="16.0" rx="1.5" fill="#dad07f"/>
<rect x="569.8" y="284.2" width="6.4" height="12" fill="#111"/>
<rect x="569.8" y="284.2" width="6.4" height="2.2" fill="#aeb0b0"/>
<rect x="569.8" y="294.0" width="6.4" height="2.2" fill="#aeb0b0"/>
<rect x="583.1" y="282.2" width="8.8" height="16.0" rx="1.5" fill="#dad07f"/>
<rect x="584.3" y="284.2" width="6.4" height="12" fill="#111"/>
<rect x="584.3" y="284.2" width="6.4" height="2.2" fill="#aeb0b0"/>
<rect x="584.3" y="294.0" width="6.4" height="2.2" fill="#aeb0b0"/>
<rect x="568.6" y="304.4" width="8.8" height="16.0" rx="1.5" fill="#dad07f"/>
<rect x="569.8" y="306.4" width="6.4" height="12" fill="#7d6b45"/>
<rect x="569.8" y="306.4" width="6.4" height="2.2" fill="#aeb0b0"/>
<rect x="569.8" y="316.2" width="6.4" height="2.2" fill="#aeb0b0"/>
<rect x="568.5" y="379.5" width="18" height="28" rx="2" fill="#dad07f"/>
<rect x="570.4" y="381.8" width="14" height="24" fill="#7d6b45"/>
<rect x="570.4" y="381.8" width="14" height="4" fill="#b4b4ac"/><rect x="570.4" y="401.7" width="14" height="4" fill="#b4b4ac"/>
<rect x="608.7" y="419.3" width="8.8" height="18.0" rx="1.5" fill="#dad07f"/>
<rect x="609.9" y="421.3" width="6.4" height="14" fill="#7d6b45"/>
<rect x="609.9" y="421.3" width="6.4" height="2.2" fill="#aeb0b0"/>
<rect x="609.9" y="433.1" width="6.4" height="2.2" fill="#aeb0b0"/>
<rect x="625" y="416" width="18" height="23" rx="1.5" fill="#fdfdfb" stroke="#b9b5a6" stroke-width="1"/>
<path d="M625.5 418.5 L625.5 416.5 L627.5 416.5 M640.5 416.5 L642.5 416.5 L642.5 418.5 M642.5 436.5 L642.5 438.5 L640.5 438.5 M627.5 438.5 L625.5 438.5 L625.5 436.5" stroke="#e07a2a" stroke-width="1.2" fill="none"/>
<rect x="666.5" y="427.6" width="16" height="10" rx="1.5" fill="#dad07f"/>
<rect x="669.3" y="429.4" width="10.4" height="6.4" fill="#38b94a"/>
<rect x="698.5" y="427.6" width="16" height="10" rx="1.5" fill="#dad07f"/>
<rect x="701.3" y="429.4" width="10.4" height="6.4" fill="#38b94a"/>
<rect x="698.5" y="452.4" width="16" height="10" rx="1.5" fill="#dad07f"/>
<rect x="701.3" y="454.2" width="10.4" height="6.4" fill="#38b94a"/>
<rect x="698.1" y="414.1" width="16.0" height="8.9" rx="1.5" fill="#dad07f"/>
<rect x="700.1" y="415.2" width="12" height="6.5" fill="#7d6b45"/>
<rect x="700.1" y="415.2" width="2.2" height="6.5" fill="#aeb0b0"/>
<rect x="709.9" y="415.2" width="2.2" height="6.5" fill="#aeb0b0"/>
<rect x="611.0" y="447.6" width="16.0" height="8.4" rx="1.5" fill="#dad07f"/>
<rect x="613.0" y="448.8" width="12" height="6" fill="#7d6b45"/>
<rect x="613.0" y="448.8" width="2.2" height="6" fill="#aeb0b0"/>
<rect x="622.8" y="448.8" width="2.2" height="6" fill="#aeb0b0"/>
<rect x="612.5" y="463.5" width="10" height="7.5" fill="#111"/><rect x="612.5" y="463.5" width="1.8" height="7.5" fill="#aaa"/><rect x="620.7" y="463.5" width="1.8" height="7.5" fill="#aaa"/>
<rect x="639" y="463.5" width="10" height="7.5" fill="#111"/><rect x="639" y="463.5" width="1.8" height="7.5" fill="#aaa"/><rect x="647.2" y="463.5" width="1.8" height="7.5" fill="#aaa"/>
<g fill="#dad07f"><rect x="663" y="449" width="23" height="3.3" rx="1.2"/><rect x="663" y="455" width="23" height="3.3" rx="1.2"/><rect x="663" y="461" width="23" height="3.3" rx="1.2"/><rect x="663" y="467" width="23" height="3.3" rx="1.2"/></g>
<rect x="668.6" y="446.7" width="10.2" height="23" fill="#b4b4b4"/>
<rect x="670.8" y="446.7" width="5.8" height="23" fill="#161616"/>
<rect x="576.1" y="418.2" width="20.7" height="13" rx="3" fill="#dad07f"/>
<rect x="576.1" y="472" width="20.7" height="13" rx="3" fill="#dad07f"/>
<rect x="578.3" y="421.8" width="16.2" height="8" fill="#c3cbea"/>
<rect x="578.3" y="474" width="16.2" height="7.6" fill="#c3cbea"/>
<rect x="568.5" y="427" width="34.9" height="48.5" fill="#c3cbea"/>
<path d="M569.3 433 L569.3 427.8 L571 427.8 M569.3 469.5 L569.3 474.7 L571 474.7 M602.6 433 L602.6 427.8 L601 427.8 M602.6 469.5 L602.6 474.7 L601 474.7" stroke="#222" stroke-width="1.3" fill="none"/>
<rect x="577" y="427" width="4.5" height="3" fill="#2a2a2a"/><rect x="590.5" y="427" width="4.5" height="3" fill="#2a2a2a"/>
<rect x="577" y="472.5" width="4.5" height="3" fill="#2a2a2a"/><rect x="590.5" y="472.5" width="4.5" height="3" fill="#2a2a2a"/>
<circle cx="585.8" cy="451.6" r="10" fill="#3a3a3a"/>
<rect x="585.8" y="140.2" width="23.6" height="6.8" fill="#dad07f"/>
<rect x="596" y="140.2" width="13" height="6.8" fill="#cfa73a"/>
<rect x="602.3" y="140.2" width="1.5" height="6.8" fill="#6e5a20"/>
<rect x="675.4" y="140.2" width="23.1" height="6.8" fill="#dad07f"/>
<rect x="675.4" y="140.2" width="13" height="6.8" fill="#cfa73a"/>
<rect x="681.2" y="140.2" width="1.5" height="6.8" fill="#6e5a20"/>
<rect x="585.8" y="155.2" width="23.6" height="6.8" fill="#dad07f"/>
<rect x="596" y="155.2" width="13" height="6.8" fill="#cfa73a"/>
<rect x="602.3" y="155.2" width="1.5" height="6.8" fill="#6e5a20"/>
<rect x="675.4" y="155.2" width="23.1" height="6.8" fill="#dad07f"/>
<rect x="675.4" y="155.2" width="13" height="6.8" fill="#cfa73a"/>
<rect x="681.2" y="155.2" width="1.5" height="6.8" fill="#6e5a20"/>
<rect x="585.8" y="170.3" width="23.6" height="6.8" fill="#dad07f"/>
<rect x="596" y="170.3" width="13" height="6.8" fill="#cfa73a"/>
<rect x="602.3" y="170.3" width="1.5" height="6.8" fill="#6e5a20"/>
<rect x="675.4" y="170.3" width="23.1" height="6.8" fill="#dad07f"/>
<rect x="675.4" y="170.3" width="13" height="6.8" fill="#cfa73a"/>
<rect x="681.2" y="170.3" width="1.5" height="6.8" fill="#6e5a20"/>
<rect x="585.8" y="185.3" width="23.6" height="6.8" fill="#dad07f"/>
<rect x="596" y="185.3" width="13" height="6.8" fill="#cfa73a"/>
<rect x="602.3" y="185.3" width="1.5" height="6.8" fill="#6e5a20"/>
<rect x="675.4" y="185.3" width="23.1" height="6.8" fill="#dad07f"/>
<rect x="675.4" y="185.3" width="13" height="6.8" fill="#cfa73a"/>
<rect x="681.2" y="185.3" width="1.5" height="6.8" fill="#6e5a20"/>
<rect x="585.8" y="200.4" width="23.6" height="6.8" fill="#dad07f"/>
<rect x="596" y="200.4" width="13" height="6.8" fill="#cfa73a"/>
<rect x="602.3" y="200.4" width="1.5" height="6.8" fill="#6e5a20"/>
<rect x="675.4" y="200.4" width="23.1" height="6.8" fill="#dad07f"/>
<rect x="675.4" y="200.4" width="13" height="6.8" fill="#cfa73a"/>
<rect x="681.2" y="200.4" width="1.5" height="6.8" fill="#6e5a20"/>
<rect x="609.4" y="128.3" width="66" height="89.1" fill="#252930"/>
<rect x="626.8" y="138.5" width="32.7" height="8.6" fill="#1e2228"/>
<rect x="634" y="139.1" width="17" height="7.4" fill="#e9e9e9"/>
<text transform="translate(614.3 142.8) rotate(90)" font-family="Liberation Sans" font-size="10" fill="#dcdcdc" text-anchor="middle">1</text>
<rect x="626.8" y="153.6" width="32.7" height="8.6" fill="#1e2228"/>
<rect x="634" y="154.2" width="17" height="7.4" fill="#e9e9e9"/>
<text transform="translate(614.3 157.9) rotate(90)" font-family="Liberation Sans" font-size="10" fill="#dcdcdc" text-anchor="middle">2</text>
<rect x="626.8" y="168.6" width="32.7" height="8.6" fill="#1e2228"/>
<rect x="634" y="169.2" width="17" height="7.4" fill="#e9e9e9"/>
<text transform="translate(614.3 172.9) rotate(90)" font-family="Liberation Sans" font-size="10" fill="#dcdcdc" text-anchor="middle">3</text>
<rect x="626.8" y="183.7" width="32.7" height="8.6" fill="#1e2228"/>
<rect x="634" y="184.3" width="17" height="7.4" fill="#e9e9e9"/>
<text transform="translate(614.3 188.0) rotate(90)" font-family="Liberation Sans" font-size="10" fill="#dcdcdc" text-anchor="middle">4</text>
<rect x="626.8" y="198.7" width="32.7" height="8.6" fill="#1e2228"/>
<rect x="634" y="199.3" width="17" height="7.4" fill="#e9e9e9"/>
<text transform="translate(614.3 203.0) rotate(90)" font-family="Liberation Sans" font-size="10" fill="#dcdcdc" text-anchor="middle">5</text>
<text transform="translate(662 147.5) rotate(90)" font-family="Liberation Sans" font-size="11" fill="#dcdcdc" text-anchor="middle">ON</text>
<rect x="597.5" y="304.5" width="94.6" height="94.9" fill="#050505"/>
<circle cx="682.8" cy="313.3" r="2.6" fill="#cfcfcf"/>
<text transform="translate(653.8 313.4) rotate(90)" font-family="Liberation Sans" font-size="18.5" fill="#c4c4c4" stroke="#050505" stroke-width="0.55" textLength="76" lengthAdjust="spacingAndGlyphs">K1948BK018</text>
<text transform="translate(631 313.4) rotate(90)" font-family="Liberation Sans" font-size="16.5" fill="#c4c4c4" stroke="#050505" stroke-width="0.55" textLength="74.4" lengthAdjust="spacingAndGlyphs">MIK32 Amur</text>
<g fill="none" stroke="#dad07f" stroke-width="2.5">
<rect x="587" y="35" width="9" height="26" rx="4.5"/><rect x="587" y="84" width="9" height="26" rx="4.5"/>
<rect x="691.5" y="35" width="9" height="26" rx="4.5"/><rect x="691.5" y="84" width="9" height="26" rx="4.5"/>
</g>
<rect x="601" y="105" width="86" height="6" fill="#ebe6a6"/>
<g fill="#a8a244">
<rect x="603.0" y="105.5" width="3" height="5"/>
<rect x="608.8" y="105.5" width="3" height="5"/>
<rect x="614.6" y="105.5" width="3" height="5"/>
<rect x="620.4" y="105.5" width="3" height="5"/>
<rect x="626.2" y="105.5" width="3" height="5"/>
<rect x="632.0" y="105.5" width="3" height="5"/>
<rect x="637.8" y="105.5" width="3" height="5"/>
<rect x="643.6" y="105.5" width="3" height="5"/>
<rect x="649.4" y="105.5" width="3" height="5"/>
<rect x="655.2" y="105.5" width="3" height="5"/>
<rect x="661.0" y="105.5" width="3" height="5"/>
<rect x="666.8" y="105.5" width="3" height="5"/>
<rect x="672.6" y="105.5" width="3" height="5"/>
<rect x="678.4" y="105.5" width="3" height="5"/>
</g>
<path d="M590 21 Q590 17.4 594 17.4 L693.5 17.4 Q697.5 17.4 697.5 21 L697.5 105.1 L590 105.1 Z" fill="url(#usbg)"/>
<rect x="590" y="103" width="107.5" height="2.5" fill="#8a8c8e"/>
<rect x="695.3" y="20" width="2.2" height="24" fill="#4a4c50"/><rect x="695.3" y="60" width="2.2" height="40" fill="#5a5c60"/>
<rect x="590.5" y="97" width="4" height="9" fill="#f4f4f2"/><rect x="692.5" y="97" width="4" height="9" fill="#e8e8e6"/>
<path d="M616.5 29.6 Q616.5 27.8 618.6 27.8 Q620.8 27.8 620.8 29.6 L622.3 49.6 L629.4 49.6 L631 29.6 Q631 27.8 632.9 27.8 Q634.8 27.8 634.8 29.6 L634.8 51 Q634.8 52.2 633.5 52.2 L617.8 52.2 Q616.5 52.2 616.5 51 Z" fill="#0b0b0b"/>
<path d="M652.7 29.6 Q652.7 27.8 654.6 27.8 Q656.5 27.8 656.5 29.6 L658.1 49.6 L665.2 49.6 L666.7 29.6 Q666.7 27.8 668.8 27.8 Q670.9 27.8 670.9 29.6 L670.9 51 Q670.9 52.2 669.6 52.2 L654 52.2 Q652.7 52.2 652.7 51 Z" fill="#0b0b0b"/>
<path d="M634.2 36 L634.2 51.8 M627.2 51.5 L630.5 51.5 M653.3 36 L653.3 51.8 M657.3 51.5 L660.2 51.5" stroke="#9a9a3a" stroke-width="1.1"/>
<rect x="617.5" y="74.2" width="10.5" height="6.4" fill="none" stroke="#b2b4b6" stroke-width="0.7"/>
<rect x="624.7" y="74.2" width="1.8" height="6.4" fill="#9c9ea0"/>
<rect x="660.2" y="74.2" width="10.5" height="6.4" fill="none" stroke="#b2b4b6" stroke-width="0.7"/>
<rect x="667.4000000000001" y="74.2" width="1.8" height="6.4" fill="#9c9ea0"/>
<rect x="590" y="103.8" width="107.5" height="1.6" fill="#222"/>
<path d="M611.1 104.5 L611.1 93 Q611.1 90.6 613.5 90.6 L628.2 90.6 Q630.7 90.6 630.7 93.1 Q630.7 95.7 628.2 95.7 L621.5 95.7 Q619.3 95.7 619.3 98 L619.3 104.5 Z" fill="#0b0b0b"/>
<path d="M675.7 104.5 L675.7 93 Q675.7 90.6 673.3 90.6 L658.6 90.6 Q656.1 90.6 656.1 93.1 Q656.1 95.7 658.6 95.7 L665.3 95.7 Q667.5 95.7 667.5 98 L667.5 104.5 Z" fill="#0b0b0b"/>
<rect x="619.3" y="96.5" width="3.5" height="7.3" fill="#8e9092" opacity="0.6"/>
<rect x="664" y="96.5" width="3.5" height="7.3" fill="#8e9092" opacity="0.6"/>
<path d="M707.3 38.7 L717.2 38.7 M707.3 38.7 L707.3 42.2 Q707.3 45 709.7 45 Q712.1 45 712.1 42.2 L712.1 38.7 M712.1 42.2 Q712.1 45 714.6 45 Q717.2 45 717.2 42.2 L717.2 38.7" stroke="#13202f" stroke-width="1.6" fill="none" stroke-linejoin="round"/>
<text x="681.5" y="279.7" font-family="Liberation Sans" font-size="17.5" fill="#13202f" stroke="#13202f" stroke-width="0.7" text-anchor="middle" textLength="60" lengthAdjust="spacingAndGlyphs">mikron</text>
<text x="654" y="297.1" font-family="Liberation Sans" font-weight="bold" font-size="18" fill="#13202f" text-anchor="middle" textLength="114" lengthAdjust="spacingAndGlyphs">100% НАШ МК</text>
<text transform="translate(696.8 316.7) rotate(90)" font-family="Liberation Sans" font-weight="bold" font-size="16" fill="#13202f" stroke="#13202f" stroke-width="0.4" textLength="84" lengthAdjust="spacingAndGlyphs">ACE-NANO</text>
<text transform="translate(710.4 345.7) rotate(90)" font-family="Liberation Sans" font-weight="bold" font-size="13" fill="#13202f" stroke="#13202f" stroke-width="0.4" textLength="54" lengthAdjust="spacingAndGlyphs">ELBEAR</text>
<text x="643.4" y="484.6" font-family="Liberation Sans" font-weight="bold" font-size="16" fill="#13202f" stroke="#13202f" stroke-width="0.5" text-anchor="middle" textLength="41.8" lengthAdjust="spacingAndGlyphs">ELRON</text>
<text x="643.7" y="516.7" font-family="Liberation Sans" font-weight="bold" font-size="15.5" fill="#13202f" stroke="#13202f" stroke-width="0.5" text-anchor="middle" textLength="112" lengthAdjust="spacingAndGlyphs">РАЗРАБОТАНО</text>
</svg>
</body></html>
